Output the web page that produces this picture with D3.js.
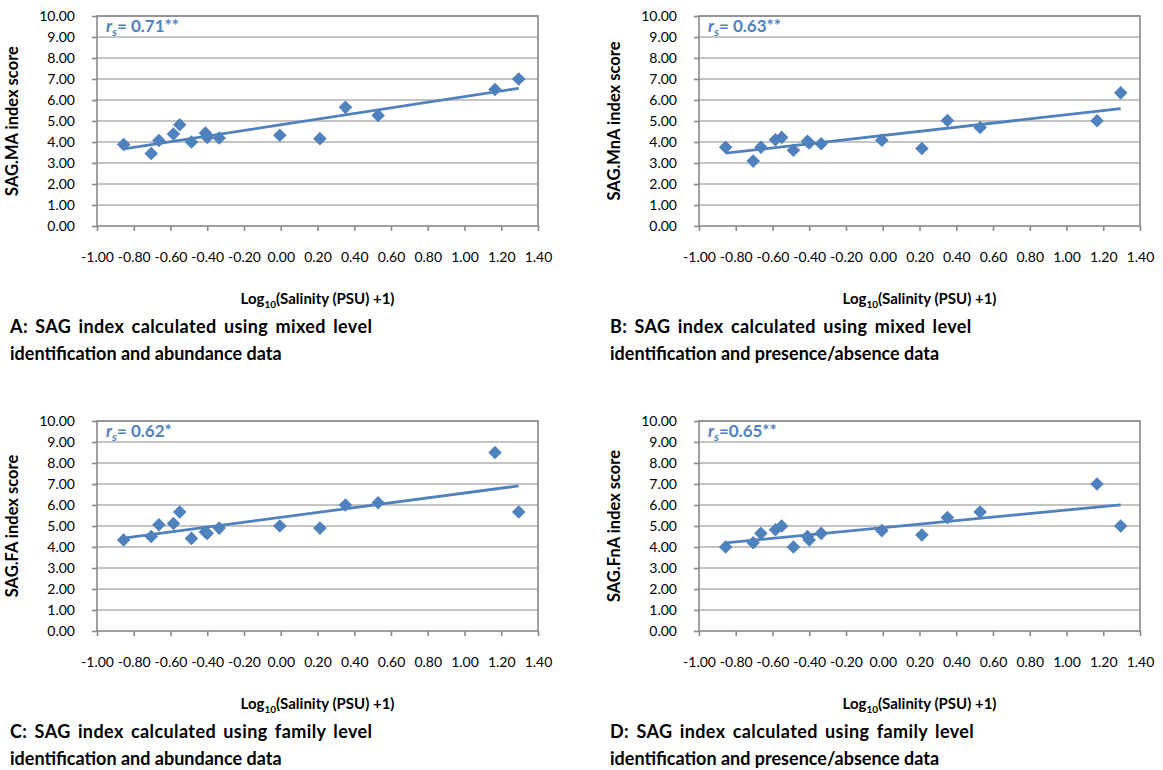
<!DOCTYPE html>
<html>
<head>
<meta charset="utf-8">
<script src="https://cdn.jsdelivr.net/npm/d3@7/dist/d3.min.js"></script>
<style>
  body { margin: 0; background: #fff; }
  svg text { font-family: Lato, "Open Sans", "Noto Sans", sans-serif; }
</style>
</head>
<body>
<svg id="fig" width="1163" height="770"></svg>
<script>
// Log10(salinity + 1) at each sampling site (shared by all four panels)
const salinityLog = [-0.855, -0.705, -0.663, -0.584, -0.55, -0.486, -0.41, -0.40, -0.335, -0.005, 0.213, 0.352, 0.53, 1.166, 1.295];

// SAG index scores per site for the four index variants
const scoreMA  = [3.88, 3.45, 4.07, 4.38, 4.82, 4.00, 4.43, 4.22, 4.19, 4.32, 4.16, 5.65, 5.26, 6.50, 7.00];
const scoreMnA = [3.75, 3.09, 3.75, 4.11, 4.22, 3.61, 4.03, 3.95, 3.92, 4.08, 3.69, 5.02, 4.69, 5.01, 6.34];
const scoreFA  = [4.33, 4.50, 5.06, 5.12, 5.67, 4.41, 4.72, 4.65, 4.90, 5.00, 4.90, 6.00, 6.11, 8.50, 5.67];
const scoreFnA = [4.00, 4.20, 4.65, 4.82, 5.00, 4.00, 4.50, 4.33, 4.65, 4.78, 4.57, 5.40, 5.67, 7.00, 5.00];

const panelScores = [scoreMA, scoreMnA, scoreFA, scoreFnA];
const rsText = ["= 0.71**", "= 0.63**", "= 0.62*", "=0.65**"];
const yTitles = ["SAG.MA index score", "SAG.MnA index score", "SAG.FA index score", "SAG.FnA index score"];
const captions = [
  ["A: SAG index calculated using mixed level", "identification and abundance data"],
  ["B: SAG index calculated using mixed level", "identification and presence/absence data"],
  ["C: SAG index calculated using family level", "identification and abundance data"],
  ["D: SAG index calculated using family level", "identification and presence/absence data"]
];
const xTickValues = [-1.0, -0.8, -0.6, -0.4, -0.2, 0.0, 0.2, 0.4, 0.6, 0.8, 1.0, 1.2, 1.4];
const yTickValues = [0, 1, 2, 3, 4, 5, 6, 7, 8, 9, 10];

const blue = "#4F81BD";
const gridGrey = "#898989";
const fmt = d3.formatLocale({ decimal: ".", thousands: ",", grouping: [3], currency: ["", ""], minus: "-" }).format(".2f");

const svg = d3.select("#fig");
const plotW = 441, plotH = 210;

// Ordinary least-squares fit used for the trend line
function linearFit(xs, ys) {
  const mx = d3.mean(xs), my = d3.mean(ys);
  let sxy = 0, sxx = 0;
  xs.forEach((x, i) => { sxy += (x - mx) * (ys[i] - my); sxx += (x - mx) ** 2; });
  const slope = sxy / sxx;
  return { slope, intercept: my - slope * mx };
}

panelScores.forEach((scores, i) => {
  const col = i % 2, row = Math.floor(i / 2);
  const left = 97 + col * 602, top = 16 + row * 405;
  const g = svg.append("g").attr("transform", `translate(${left},${top})`);

  const x = d3.scaleLinear().domain([-1, 1.4]).range([0, plotW]);
  const y = d3.scaleLinear().domain([0, 10]).range([plotH, 0]);

  // horizontal gridlines
  g.append("g").selectAll("line").data(yTickValues.slice(1)).join("line")
    .attr("x1", 0).attr("x2", plotW)
    .attr("y1", d => y(d)).attr("y2", d => y(d))
    .attr("stroke", gridGrey).attr("stroke-width", 1.2);

  // plot frame
  g.append("rect").attr("x", 0).attr("y", 0).attr("width", plotW).attr("height", plotH)
    .attr("fill", "none").attr("stroke", gridGrey).attr("stroke-width", 1.6);

  // y axis
  const ya = g.append("g").call(d3.axisLeft(y).tickValues(yTickValues).tickFormat(fmt).tickSize(5).tickPadding(17));
  ya.select(".domain").remove();
  ya.selectAll("line").attr("stroke", gridGrey).attr("stroke-width", 1.6);
  ya.selectAll("text").attr("font-size", 14).attr("fill", "#000");

  // x axis (labels sit well below the frame)
  const xa = g.append("g").attr("transform", `translate(0,${plotH})`)
    .call(d3.axisBottom(x).tickValues(xTickValues).tickFormat(fmt).tickSize(5).tickPadding(21));
  xa.select(".domain").remove();
  xa.selectAll("line").attr("stroke", gridGrey).attr("stroke-width", 1.6);
  xa.selectAll("text").attr("font-size", 14).attr("fill", "#000");

  // trend line across the observed range
  const fit = linearFit(salinityLog, scores);
  const xr = d3.extent(salinityLog);
  g.append("line")
    .attr("x1", x(xr[0])).attr("y1", y(fit.intercept + fit.slope * xr[0]))
    .attr("x2", x(xr[1])).attr("y2", y(fit.intercept + fit.slope * xr[1]))
    .attr("stroke", blue).attr("stroke-width", 2.8);

  // diamond markers
  const diamond = d3.symbol().type(d3.symbolSquare).size(92);
  g.append("g").selectAll("path").data(salinityLog.map((v, k) => [v, scores[k]])).join("path")
    .attr("d", diamond)
    .attr("transform", d => `translate(${x(d[0])},${y(d[1])}) rotate(45)`)
    .attr("fill", blue);

  // Spearman coefficient
  const rs = g.append("text").attr("x", 9).attr("y", 16)
    .attr("font-size", 17).attr("font-weight", "bold").attr("fill", blue);
  rs.append("tspan").attr("font-style", "italic").text("r");
  rs.append("tspan").attr("font-style", "italic").attr("font-size", 12).attr("dy", 4).text("s");
  rs.append("tspan").attr("dy", -4).text(rsText[i]);

  // y axis title
  g.append("text")
    .attr("transform", `translate(${-79},${plotH / 2}) rotate(-90)`)
    .attr("text-anchor", "middle").attr("font-size", 16.5).attr("font-weight", "bold").attr("fill", "#000")
    .text(yTitles[i]);

  // x axis title with subscript
  const xt = g.append("text").attr("x", plotW / 2).attr("y", 288)
    .attr("text-anchor", "middle").attr("font-size", 15).attr("font-weight", "bold").attr("fill", "#000");
  xt.append("tspan").text("Log");
  xt.append("tspan").attr("font-size", 10).attr("dy", 4).text("10");
  xt.append("tspan").attr("dy", -4).text("(Salinity (PSU) +1)");

  // panel caption (first line set a little looser, as in the document layout)
  const cx = 10 + col * 600 - left;
  captions[i].forEach((line, k) => {
    g.append("text").attr("x", cx).attr("y", 317 + k * 27)
      .attr("font-size", 18).attr("font-weight", "bold").attr("fill", "#000")
      .attr("word-spacing", k === 0 ? 2.5 : 0)
      .attr("letter-spacing", k === 0 ? 0.4 : 0)
      .text(line);
  });
});
</script>
</body>
</html>
